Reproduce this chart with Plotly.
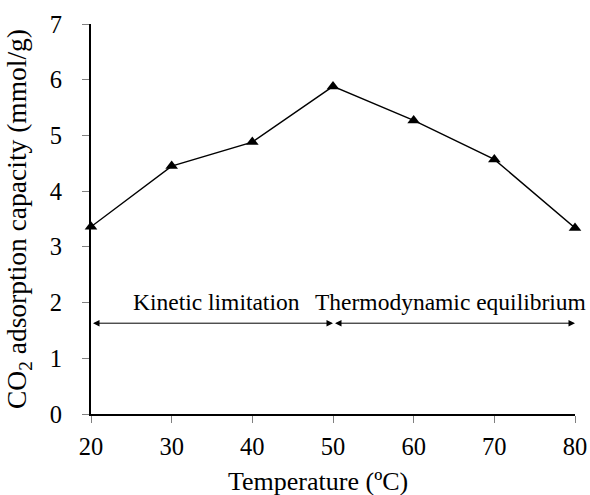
import plotly.graph_objects as go

temperature = [20, 30, 40, 50, 60, 70, 80]
capacity = [3.36, 4.45, 4.88, 5.88, 5.27, 4.57, 3.34]
x_ticks = [20, 30, 40, 50, 60, 70, 80]
y_ticks = [0, 1, 2, 3, 4, 5, 6, 7]
arrow_y = 1.63
regions = [("Kinetic limitation", 20, 50, 35.6), ("Thermodynamic equilibrium", 50, 80, 64.6)]

FONT = "Liberation Serif, Times New Roman, serif"

fig = go.Figure()
fig.add_trace(go.Scatter(
    x=temperature, y=capacity, mode="lines+markers",
    line=dict(color="black", width=1.4),
    marker=dict(symbol="triangle-up", size=11, color="black"),
    showlegend=False, cliponaxis=False,
))

for label, x0, x1, xc in regions:
    fig.add_annotation(
        x=x1, y=arrow_y, ax=x0, ay=arrow_y, xref="x", yref="y", axref="x", ayref="y",
        text=" ", showarrow=True, arrowhead=2, startarrowhead=2, arrowside="end+start",
        arrowsize=1.3, startarrowsize=1.3, arrowwidth=1, arrowcolor="black",
        font=dict(size=2),
    )
    fig.add_annotation(
        x=xc, y=arrow_y, xref="x", yref="y", text=label, showarrow=False,
        yanchor="bottom", yshift=6, font=dict(family=FONT, size=23.5, color="black"),
    )

# x-axis title (slightly left of the axis centre, as in the reference)
fig.add_annotation(
    x=0.468, y=-0.172, xref="paper", yref="paper", text="Temperature (ºC)",
    showarrow=False, xanchor="center", yanchor="middle",
    font=dict(family=FONT, size=26, color="black"),
)

fig.update_xaxes(
    range=[20, 80], tickvals=x_ticks, showline=True, linecolor="black", linewidth=2,
    ticks="outside", ticklen=7, tickcolor="#808080", tickwidth=1, showgrid=False, zeroline=False,
    ticklabelstandoff=3, automargin=False,
    tickfont=dict(family=FONT, size=24.5, color="black"),
)
fig.update_yaxes(
    range=[0, 7], tickvals=y_ticks, showline=True, linecolor="black", linewidth=2,
    ticks="outside", ticklen=7, tickcolor="#808080", tickwidth=1, showgrid=False, zeroline=False,
    ticklabelstandoff=15, automargin=False,
    tickfont=dict(family=FONT, size=24.5, color="black"),
    title=dict(text="CO<sub>2</sub> adsorption capacity (mmol/g)",
               font=dict(family=FONT, size=27.5, color="black")),
)
fig.update_layout(
    width=590, height=495, margin=dict(l=91, r=15, t=24, b=81),
    plot_bgcolor="white", paper_bgcolor="white",
)
fig.write_html("out.html")
